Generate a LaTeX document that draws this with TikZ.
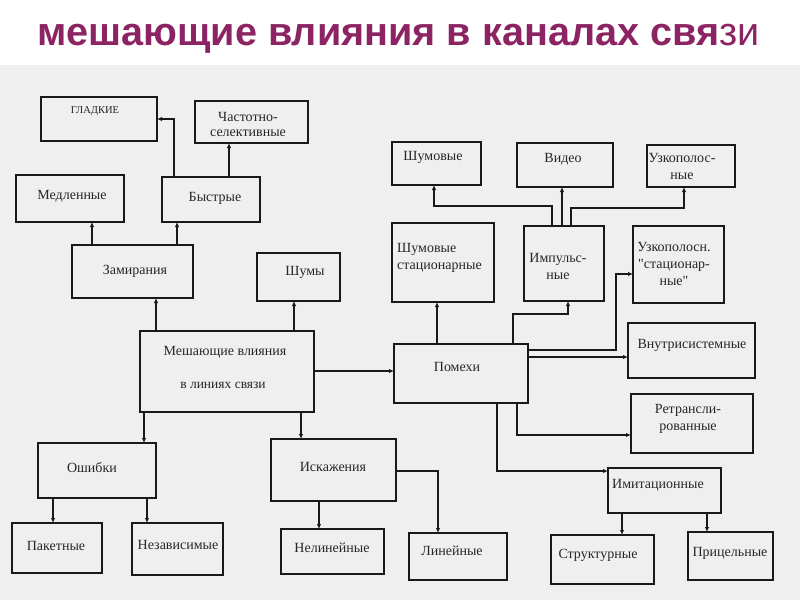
\documentclass[tikz,border=0pt]{standalone}
\usepackage{fontspec}
\usetikzlibrary{arrows.meta}
\newfontfamily\titlefont{Liberation Sans}
\newfontfamily\diafont{Liberation Serif}
\definecolor{titlepurple}{RGB}{140,36,100}
\definecolor{bggray}{RGB}{239,239,239}
\newcommand\mkbox[5]{\node[box, minimum width={(#4-#2)*1pt}, minimum height={(#5-#3)*1pt}] (#1) at ({(#2+#4)/2},{(#3+#5)/2}) {};}
\begin{document}
\begin{tikzpicture}[x=1pt,y=-1pt,
  box/.style={draw=black!90, line width=2.2pt, inner sep=0pt, outer sep=0pt},
  txt/.style={font=\diafont\fontsize{14}{17}\selectfont, inner sep=0pt, text=black!85, align=center},
  arr/.style={draw=black!90, line width=1.5pt, -{Latex[length=5pt,width=4.5pt]}}]
\useasboundingbox (0,0) rectangle (800,600);
\fill[bggray] (0,65) rectangle (800,600);
\node[anchor=base west, inner sep=0pt, text=titlepurple, font=\titlefont\fontsize{39.6}{48}\selectfont] (title) at (37,45) {{\bfseries мешающие влияния в каналах свя}зи};

% boxes
\mkbox{glad}{41}{97}{157}{141}
\mkbox{chast}{195}{101}{308}{143}
\mkbox{med}{16}{175}{124}{222}
\mkbox{bystr}{162}{177}{260}{222}
\mkbox{zam}{72}{245}{193}{298}
\mkbox{shumy}{257}{253}{340}{301}
\mkbox{mesh}{140}{331}{314}{412}
\mkbox{pomehi}{394}{344}{528}{403}
\mkbox{oshib}{38}{443}{156}{498}
\mkbox{paket}{12}{523}{102}{573}
\mkbox{nezav}{132}{523}{223}{575}
\mkbox{iskazh}{271}{439}{396}{501}
\mkbox{nelin}{281}{529}{384}{574}
\mkbox{lin}{409}{533}{507}{580}
\mkbox{shumov}{392}{142}{481}{185}
\mkbox{video}{517}{143}{613}{187}
\mkbox{uzkop}{647}{145}{735}{187}
\mkbox{shst}{392}{223}{494}{302}
\mkbox{imp}{524}{226}{604}{301}
\mkbox{uzst}{633}{226}{724}{303}
\mkbox{vnutr}{628}{323}{755}{378}
\mkbox{retr}{631}{394}{753}{453}
\mkbox{imit}{608}{468}{721}{513}
\mkbox{strukt}{551}{535}{654}{584}
\mkbox{pric}{688}{532}{773}{580}

% texts
\node[txt, font=\diafont\fontsize{10.5}{12}\selectfont] (tglad) at (95,111) {ГЛАДКИЕ};
\node[txt, font=\diafont\fontsize{14}{15}\selectfont] (tchast) at (248,124) {Частотно-\\ селективные};
\node[txt] (tmed) at (72,196) {Медленные};
\node[txt] (tbystr) at (215,198) {Быстрые};
\node[txt] (tzam) at (135,271) {Замирания};
\node[txt] (tshumy) at (305,272) {Шумы};
\node[txt] (tmesh1) at (225,352) {Мешающие влияния};
\node[txt, font=\diafont\fontsize{13.5}{15}\selectfont] (tmesh2) at (223,385) {в линиях связи};
\node[txt] (tpomehi) at (457,367) {Помехи};
\node[txt] (toshib) at (92,468) {Ошибки};
\node[txt] (tpaket) at (56,546) {Пакетные};
\node[txt] (tnezav) at (178,545) {Независимые};
\node[txt] (tiskazh) at (333,467) {Искажения};
\node[txt] (tnelin) at (332,548) {Нелинейные};
\node[txt] (tlin) at (452,551) {Линейные};
\node[txt] (tshumov) at (433,157) {Шумовые};
\node[txt] (tvideo) at (563,159) {Видео};
\node[txt] (tuzkop) at (682,166) {Узкополос-\\ные};
\node[txt, align=left, anchor=west] (tshst) at (397,258) {Шумовые\\стационарные};
\node[txt] (timp) at (558,266) {Импульс-\\ные};
\node[txt] (tuzst) at (674,264) {Узкополосн.\\"стационар-\\ные"};
\node[txt] (tvnutr) at (692,345) {Внутрисистемные};
\node[txt] (tretr) at (688,419) {Ретрансли-\\рованные};
\node[txt] (timit) at (658,485) {Имитационные};
\node[txt] (tstrukt) at (598,555) {Структурные};
\node[txt] (tpric) at (730,553) {Прицельные};

% bend points
\coordinate (bImpL) at (434,206);
\coordinate (bImpR) at (684,208);
\coordinate (bPomImp) at (568,314);
\coordinate (bPomUz1) at (616,350);
\coordinate (bPomUz2) at (616,274);

% connectors
\draw[arr] (mesh.north -| 156,0) -- (zam.south -| 156,0);
\draw[arr] (mesh.north -| 294,0) -- (shumy.south -| 294,0);
\draw[arr] (zam.north -| 92,0) -- (med.south -| 92,0);
\draw[arr] (zam.north -| 177,0) -- (bystr.south -| 177,0);
\draw[arr] (bystr.north -| 174,0) |- (glad.east);
\draw[arr] (bystr.north -| 229,0) -- (chast.south -| 229,0);
\draw[arr] (mesh.east |- 0,371) -- (pomehi.west |- 0,371);
\draw[arr] (mesh.south -| 144,0) -- (oshib.north -| 144,0);
\draw[arr] (mesh.south -| 301,0) -- (iskazh.north -| 301,0);
\draw[arr] (oshib.south -| 53,0) -- (paket.north -| 53,0);
\draw[arr] (oshib.south -| 147,0) -- (nezav.north -| 147,0);
\draw[arr] (iskazh.south -| 319,0) -- (nelin.north -| 319,0);
\draw[arr] (iskazh.east |- 0,471) -| (lin.north -| 438,0);
\draw[arr] (pomehi.north -| 437,0) -- (shst.south -| 437,0);
\draw[arr] (pomehi.north -| 513,0) |- (bPomImp) -- (imp.south -| bPomImp);
\draw[arr] (pomehi.east |- bPomUz1) -- (bPomUz1) -- (bPomUz2) -- (uzst.west |- bPomUz2);
\draw[arr] (pomehi.east |- 0,357) -- (vnutr.west |- 0,357);
\draw[arr] (pomehi.south -| 517,0) |- (retr.west |- 0,435);
\draw[arr] (pomehi.south -| 497,0) |- (imit.west |- 0,471);
\draw[arr] (imp.north -| 552,0) |- (bImpL) -- (shumov.south -| bImpL);
\draw[arr] (imp.north -| 562,0) -- (video.south -| 562,0);
\draw[arr] (imp.north -| 571,0) |- (bImpR) -- (uzkop.south -| bImpR);
\draw[arr] (imit.south -| 622,0) -- (strukt.north -| 622,0);
\draw[arr] (imit.south -| 707,0) -- (pric.north -| 707,0);
\end{tikzpicture}
\end{document}
